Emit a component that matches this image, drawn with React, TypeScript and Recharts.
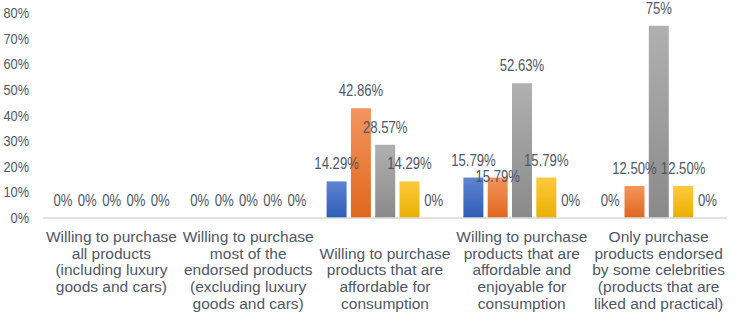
import React from "react";
import { BarChart, Bar, XAxis, YAxis, LabelList } from "recharts";

// Categories as printed under the axis (line breaks as in the source chart)
const categories = [
  ["Willing to purchase", "all products", "(including luxury", "goods and cars)"],
  ["Willing to purchase", "most of the", "endorsed products", "(excluding luxury", "goods and cars)"],
  ["Willing to purchase", "products that are", "affordable for", "consumption"],
  ["Willing to purchase", "products that are", "affordable and", "enjoyable for", "consumption"],
  ["Only purchase", "products endorsed", "by some celebrities", "(products that are", "liked and practical)"],
];

// Series values (%)
const blue = [0, 0, 14.29, 15.79, 0];
const orange = [0, 0, 42.86, 15.79, 12.5];
const gray = [0, 0, 28.57, 52.63, 75];
const yellow = [0, 0, 14.29, 15.79, 12.5];
const lightBlue = [0, 0, 0, 0, 0];

const yTicks = [0, 10, 20, 30, 40, 50, 60, 70, 80];

const data = categories.map((lines, i) => ({
  name: lines.join(" "),
  s1: blue[i],
  s2: orange[i],
  s3: gray[i],
  s4: yellow[i],
  s5: lightBlue[i],
}));

const series = [
  { key: "s1", top: "#5F84D2", bottom: "#2E5CB6" },
  { key: "s2", top: "#F3955F", bottom: "#E0671C" },
  { key: "s3", top: "#B0B0B0", bottom: "#8A8A8A" },
  { key: "s4", top: "#FFC93E", bottom: "#E8B000" },
  { key: "s5", top: "#6FB2E4", bottom: "#3F8FCF" },
];

const W = 739;
const H = 322;
const M = { top: 13, right: 12, left: 0, bottom: 0 };
const Y_W = 43;
const band = (W - M.right - Y_W) / categories.length;

const textColor = "#4E5766";
const fmt = (v: number) => (Number.isInteger(v) ? `${v}%` : `${v.toFixed(2)}%`);

// Excel started the third label one line lower
const firstLine = [0, 0, 1, 0, 0];

function CategoryTick(props: any) {
  const { x, y, index } = props;
  const lines = categories[index] || [];
  const start = firstLine[index] || 0;
  return (
    <g>
      {lines.map((t, i) => (
        <text
          key={i}
          x={x}
          y={y + 16 + (start + i) * 16.7}
          textAnchor="middle"
          fill={textColor}
          fontFamily="'Liberation Sans', Arial, sans-serif"
          fontSize={15.5}
        >
          {t}
        </text>
      ))}
    </g>
  );
}

function makeLabel(seriesIdx: number) {
  return (props: any) => {
    const { x, y, width } = props;
    const value = Number(props.value);
    const idx = props.index ?? Math.floor((x - Y_W) / band);
    let dy = -12;
    // Excel pushed a label down when it collided with the previous bar's label
    if (seriesIdx === 1 && value > 0 && blue[idx] === value) dy = 4;
    // narrow, tall label font as in the source
    return (
      <text
        transform={`translate(${x + width / 2}, ${y + dy}) scale(0.82, 1)`}
        textAnchor="middle"
        fill={textColor}
        fontFamily="'Liberation Sans', sans-serif"
        fontSize={16}
      >
        {fmt(value)}
      </text>
    );
  };
}

function YTick(props: any) {
  const { x, y, payload } = props;
  return (
    <text
      transform={`translate(${x}, ${y + 5}) scale(0.85, 1)`}
      textAnchor="end"
      fill={textColor}
      fontFamily="'Liberation Sans', sans-serif"
      fontSize={15}
    >
      {`${payload.value}%`}
    </text>
  );
}

export default function App() {
  return (
    <div style={{ position: "absolute", left: 0, top: 0, background: "#fff" }}>
      <BarChart width={W} height={H} data={data} margin={M} barSize={20} barGap={4.3}>
        <defs>
          {series.map((s) => (
            <linearGradient key={s.key} id={`g-${s.key}`} x1="0" y1="0" x2="0" y2="1">
              <stop offset="0%" stopColor={s.top} />
              <stop offset="100%" stopColor={s.bottom} />
            </linearGradient>
          ))}
        </defs>
        <XAxis
          dataKey="name"
          interval={0}
          height={104}
          tickLine={false}
          axisLine={{ stroke: "#D9D9D9", strokeWidth: 1.5 }}
          tick={<CategoryTick />}
        />
        <YAxis
          width={Y_W}
          domain={[0, 80]}
          ticks={yTicks}
          axisLine={false}
          tickLine={false}
          tickSize={0}
          tickMargin={14}
          tick={<YTick />}
        />
        {series.map((s, i) => (
          <Bar
            key={s.key}
            dataKey={s.key}
            fill={`url(#g-${s.key})`}
            minPointSize={0.01}
            isAnimationActive={false}
          >
            <LabelList dataKey={s.key} content={makeLabel(i)} />
          </Bar>
        ))}
      </BarChart>
    </div>
  );
}
